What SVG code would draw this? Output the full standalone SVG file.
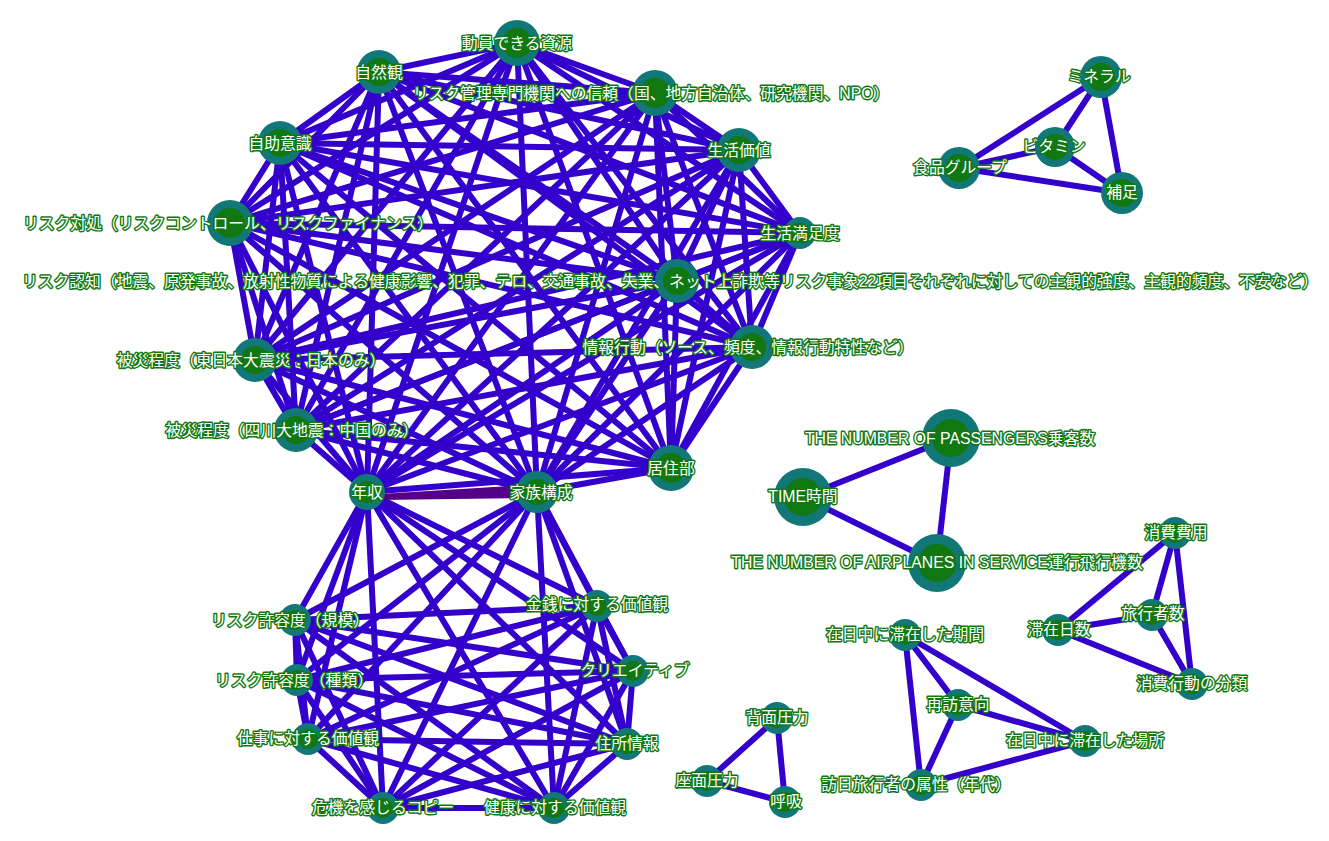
<svg xmlns="http://www.w3.org/2000/svg" width="1329" height="841" viewBox="0 0 1329 841">
<style>
.e{stroke:#3300cc;stroke-width:6;fill:none;stroke-linecap:butt}
.w{fill:#550088}
.o{fill:#117777}
.i{fill:#117711}
text{font-family:"Liberation Sans","Noto Sans CJK JP",sans-serif;font-size:15.8px;fill:#ffffff;stroke:#117711;stroke-width:2.8px;stroke-linejoin:round;paint-order:stroke;text-anchor:middle}
</style>
<rect width="1329" height="841" fill="#ffffff"/>
<g id="connectors">
<path class="e" d="M517 43L379 72"/><path class="e" d="M517 43L655 93"/><path class="e" d="M517 43L280 143"/><path class="e" d="M517 43L739 150"/><path class="e" d="M517 43L230 223"/><path class="e" d="M517 43L800 233"/><path class="e" d="M517 43L677 281"/><path class="e" d="M517 43L752 347"/><path class="e" d="M517 43L255 360"/><path class="e" d="M517 43L296 430"/><path class="e" d="M517 43L367 492"/><path class="e" d="M517 43L537 492"/><path class="e" d="M517 43L671 468"/>
<path class="e" d="M379 72L655 93"/><path class="e" d="M379 72L280 143"/><path class="e" d="M379 72L739 150"/><path class="e" d="M379 72L230 223"/><path class="e" d="M379 72L800 233"/><path class="e" d="M379 72L677 281"/><path class="e" d="M379 72L752 347"/><path class="e" d="M379 72L255 360"/><path class="e" d="M379 72L296 430"/><path class="e" d="M379 72L367 492"/><path class="e" d="M379 72L537 492"/><path class="e" d="M379 72L671 468"/>
<path class="e" d="M655 93L280 143"/><path class="e" d="M655 93L739 150"/><path class="e" d="M655 93L230 223"/><path class="e" d="M655 93L800 233"/><path class="e" d="M655 93L677 281"/><path class="e" d="M655 93L752 347"/><path class="e" d="M655 93L255 360"/><path class="e" d="M655 93L296 430"/><path class="e" d="M655 93L367 492"/><path class="e" d="M655 93L537 492"/><path class="e" d="M655 93L671 468"/>
<path class="e" d="M280 143L739 150"/><path class="e" d="M280 143L230 223"/><path class="e" d="M280 143L800 233"/><path class="e" d="M280 143L677 281"/><path class="e" d="M280 143L752 347"/><path class="e" d="M280 143L255 360"/><path class="e" d="M280 143L296 430"/><path class="e" d="M280 143L367 492"/><path class="e" d="M280 143L537 492"/><path class="e" d="M280 143L671 468"/>
<path class="e" d="M739 150L230 223"/><path class="e" d="M739 150L800 233"/><path class="e" d="M739 150L677 281"/><path class="e" d="M739 150L752 347"/><path class="e" d="M739 150L255 360"/><path class="e" d="M739 150L296 430"/><path class="e" d="M739 150L367 492"/><path class="e" d="M739 150L537 492"/><path class="e" d="M739 150L671 468"/>
<path class="e" d="M230 223L800 233"/><path class="e" d="M230 223L677 281"/><path class="e" d="M230 223L752 347"/><path class="e" d="M230 223L255 360"/><path class="e" d="M230 223L296 430"/><path class="e" d="M230 223L367 492"/><path class="e" d="M230 223L537 492"/><path class="e" d="M230 223L671 468"/>
<path class="e" d="M800 233L677 281"/><path class="e" d="M800 233L752 347"/><path class="e" d="M800 233L255 360"/><path class="e" d="M800 233L296 430"/><path class="e" d="M800 233L367 492"/><path class="e" d="M800 233L537 492"/><path class="e" d="M800 233L671 468"/>
<path class="e" d="M677 281L752 347"/><path class="e" d="M677 281L255 360"/><path class="e" d="M677 281L296 430"/><path class="e" d="M677 281L367 492"/><path class="e" d="M677 281L537 492"/><path class="e" d="M677 281L671 468"/>
<path class="e" d="M752 347L255 360"/><path class="e" d="M752 347L296 430"/><path class="e" d="M752 347L367 492"/><path class="e" d="M752 347L537 492"/><path class="e" d="M752 347L671 468"/>
<path class="e" d="M255 360L296 430"/><path class="e" d="M255 360L367 492"/><path class="e" d="M255 360L537 492"/><path class="e" d="M255 360L671 468"/>
<path class="e" d="M296 430L367 492"/><path class="e" d="M296 430L537 492"/><path class="e" d="M296 430L671 468"/>
<path class="e" d="M367 492L671 468"/><path class="e" d="M537 492L671 468"/>
<path class="e" d="M367 492L597 606"/><path class="e" d="M367 492L295 620"/><path class="e" d="M367 492L297 680"/><path class="e" d="M367 492L633 671"/><path class="e" d="M367 492L308 739"/><path class="e" d="M367 492L627 744"/><path class="e" d="M367 492L383 808"/><path class="e" d="M367 492L554 808"/>
<path class="e" d="M537 492L597 606"/><path class="e" d="M537 492L295 620"/><path class="e" d="M537 492L297 680"/><path class="e" d="M537 492L633 671"/><path class="e" d="M537 492L308 739"/><path class="e" d="M537 492L627 744"/><path class="e" d="M537 492L383 808"/><path class="e" d="M537 492L554 808"/>
<path class="e" d="M597 606L295 620"/><path class="e" d="M597 606L297 680"/><path class="e" d="M597 606L633 671"/><path class="e" d="M597 606L308 739"/><path class="e" d="M597 606L627 744"/><path class="e" d="M597 606L383 808"/><path class="e" d="M597 606L554 808"/>
<path class="e" d="M295 620L297 680"/><path class="e" d="M295 620L633 671"/><path class="e" d="M295 620L308 739"/><path class="e" d="M295 620L627 744"/><path class="e" d="M295 620L383 808"/><path class="e" d="M295 620L554 808"/>
<path class="e" d="M297 680L633 671"/><path class="e" d="M297 680L308 739"/><path class="e" d="M297 680L627 744"/><path class="e" d="M297 680L383 808"/><path class="e" d="M297 680L554 808"/>
<path class="e" d="M633 671L308 739"/><path class="e" d="M633 671L627 744"/><path class="e" d="M633 671L383 808"/><path class="e" d="M633 671L554 808"/>
<path class="e" d="M308 739L627 744"/><path class="e" d="M308 739L383 808"/><path class="e" d="M308 739L554 808"/>
<path class="e" d="M627 744L383 808"/><path class="e" d="M627 744L554 808"/>
<path class="e" d="M383 808L554 808"/>
<polygon class="w" points="380,494 380,500 525,498 525,485"/>
<path class="e" d="M1101 77L1055 147"/><path class="e" d="M1101 77L959 168"/><path class="e" d="M1101 77L1122 193"/><path class="e" d="M1055 147L959 168"/><path class="e" d="M1055 147L1122 193"/><path class="e" d="M959 168L1122 193"/>
<path class="e" d="M951 438L803 497"/><path class="e" d="M951 438L937 563"/><path class="e" d="M803 497L937 563"/>
<path class="e" d="M1175 533L1152 615"/><path class="e" d="M1175 533L1058 630"/><path class="e" d="M1175 533L1192 684"/><path class="e" d="M1152 615L1058 630"/><path class="e" d="M1152 615L1192 684"/><path class="e" d="M1058 630L1192 684"/>
<path class="e" d="M905 635L958 705"/><path class="e" d="M905 635L1085 741"/><path class="e" d="M905 635L921 785"/><path class="e" d="M958 705L1085 741"/><path class="e" d="M958 705L921 785"/><path class="e" d="M1085 741L921 785"/>
<path class="e" d="M777 718L707 781"/><path class="e" d="M777 718L785 802"/><path class="e" d="M707 781L785 802"/>
</g>
<g id="n1"><circle class="o" cx="517" cy="43" r="23"/><circle class="i" cx="517" cy="43" r="15"/><text x="517" y="48.5">動員できる資源</text></g>
<g id="n2"><circle class="o" cx="379" cy="72" r="22"/><circle class="i" cx="379" cy="72" r="14"/><text x="379" y="77.5">自然観</text></g>
<g id="n3"><circle class="o" cx="655" cy="93" r="23"/><circle class="i" cx="655" cy="93" r="15"/><text x="651" y="98.5">リスク管理専門機関への信頼（国、地方自治体、研究機関、NPO）</text></g>
<g id="n4"><circle class="o" cx="280" cy="143" r="22"/><circle class="i" cx="280" cy="143" r="14"/><text x="280" y="148.5">自助意識</text></g>
<g id="n5"><circle class="o" cx="739" cy="150" r="22"/><circle class="i" cx="739" cy="150" r="14"/><text x="739" y="155.5">生活価値</text></g>
<g id="n6"><circle class="o" cx="230" cy="223" r="23"/><circle class="i" cx="230" cy="223" r="15"/><text x="228" y="228.5">リスク対処（リスクコントロール、リスクファイナンス）</text></g>
<g id="n7"><circle class="o" cx="800" cy="233" r="16"/><circle class="i" cx="800" cy="233" r="10"/><text x="800" y="238.5">生活満足度</text></g>
<g id="n8"><circle class="o" cx="677" cy="281" r="22"/><circle class="i" cx="677" cy="281" r="14"/><text x="670" y="286.5">リスク認知（地震、原発事故、放射性物質による健康影響、犯罪、テロ、交通事故、失業、ネット上詐欺等リスク事象22項目それぞれに対しての主観的強度、主観的頻度、不安など）</text></g>
<g id="n9"><circle class="o" cx="752" cy="347" r="22"/><circle class="i" cx="752" cy="347" r="14"/><text x="748" y="352.5">情報行動（ソース、頻度、情報行動特性など）</text></g>
<g id="n10"><circle class="o" cx="255" cy="360" r="22"/><circle class="i" cx="255" cy="360" r="14"/><text x="251" y="365.5">被災程度（東日本大震災：日本のみ）</text></g>
<g id="n11"><circle class="o" cx="296" cy="430" r="22"/><circle class="i" cx="296" cy="430" r="14"/><text x="292" y="435.5">被災程度（四川大地震：中国のみ）</text></g>
<g id="n12"><circle class="o" cx="367" cy="492" r="18"/><circle class="i" cx="367" cy="492" r="11"/><text x="367" y="497.5">年収</text></g>
<g id="n13"><circle class="o" cx="537" cy="492" r="21"/><circle class="i" cx="537" cy="492" r="13"/><text x="541" y="497.5">家族構成</text></g>
<g id="n14"><circle class="o" cx="671" cy="468" r="23"/><circle class="i" cx="671" cy="468" r="15"/><text x="671" y="473.5">居住部</text></g>
<g id="n15"><circle class="o" cx="597" cy="606" r="16"/><circle class="i" cx="597" cy="606" r="10"/><text x="597" y="609.5">金銭に対する価値観</text></g>
<g id="n16"><circle class="o" cx="295" cy="620" r="16"/><circle class="i" cx="295" cy="620" r="10"/><text x="290" y="625.5">リスク許容度（規模）</text></g>
<g id="n17"><circle class="o" cx="297" cy="680" r="16"/><circle class="i" cx="297" cy="680" r="10"/><text x="294" y="685.5">リスク許容度（種類）</text></g>
<g id="n18"><circle class="o" cx="633" cy="671" r="16"/><circle class="i" cx="633" cy="671" r="10"/><text x="635" y="676">クリエイティブ</text></g>
<g id="n19"><circle class="o" cx="308" cy="739" r="16"/><circle class="i" cx="308" cy="739" r="10"/><text x="308" y="744">仕事に対する価値観</text></g>
<g id="n20"><circle class="o" cx="627" cy="744" r="16"/><circle class="i" cx="627" cy="744" r="10"/><text x="627" y="749">住所情報</text></g>
<g id="n21"><circle class="o" cx="383" cy="808" r="16"/><circle class="i" cx="383" cy="808" r="10"/><text x="383" y="813">危機を感じるコピー</text></g>
<g id="n22"><circle class="o" cx="554" cy="808" r="16"/><circle class="i" cx="554" cy="808" r="10"/><text x="555" y="813">健康に対する価値観</text></g>
<g id="n23"><circle class="o" cx="1101" cy="77" r="21"/><circle class="i" cx="1101" cy="77" r="14"/><text x="1099" y="82">ミネラル</text></g>
<g id="n24"><circle class="o" cx="1055" cy="147" r="20"/><circle class="i" cx="1055" cy="147" r="13"/><text x="1054" y="152">ビタミン</text></g>
<g id="n25"><circle class="o" cx="959" cy="168" r="21"/><circle class="i" cx="959" cy="168" r="14"/><text x="960" y="173">食品グループ</text></g>
<g id="n26"><circle class="o" cx="1122" cy="193" r="21"/><circle class="i" cx="1122" cy="193" r="14"/><text x="1122" y="198">補足</text></g>
<g id="n27"><circle class="o" cx="951" cy="438" r="29"/><circle class="i" cx="951" cy="438" r="19"/><text x="950" y="443.5">THE NUMBER OF PASSENGERS乗客数</text></g>
<g id="n28"><circle class="o" cx="803" cy="497" r="29"/><circle class="i" cx="803" cy="497" r="19"/><text x="803" y="502">TIME時間</text></g>
<g id="n29"><circle class="o" cx="937" cy="563" r="29"/><circle class="i" cx="937" cy="563" r="19"/><text x="937" y="568">THE NUMBER OF AIRPLANES IN SERVICE運行飛行機数</text></g>
<g id="n30"><circle class="o" cx="1175" cy="533" r="16"/><circle class="i" cx="1175" cy="533" r="10"/><text x="1176" y="538">消費費用</text></g>
<g id="n31"><circle class="o" cx="1152" cy="615" r="16"/><circle class="i" cx="1152" cy="615" r="10"/><text x="1153" y="619">旅行者数</text></g>
<g id="n32"><circle class="o" cx="1058" cy="630" r="16"/><circle class="i" cx="1058" cy="630" r="10"/><text x="1059" y="635">滞在日数</text></g>
<g id="n33"><circle class="o" cx="1192" cy="684" r="16"/><circle class="i" cx="1192" cy="684" r="10"/><text x="1192" y="688.5">消費行動の分類</text></g>
<g id="n34"><circle class="o" cx="905" cy="635" r="16"/><circle class="i" cx="905" cy="635" r="10"/><text x="905" y="640">在日中に滞在した期間</text></g>
<g id="n35"><circle class="o" cx="958" cy="705" r="16"/><circle class="i" cx="958" cy="705" r="10"/><text x="958" y="710">再訪意向</text></g>
<g id="n36"><circle class="o" cx="1085" cy="741" r="16"/><circle class="i" cx="1085" cy="741" r="10"/><text x="1085" y="746">在日中に滞在した場所</text></g>
<g id="n37"><circle class="o" cx="921" cy="785" r="16"/><circle class="i" cx="921" cy="785" r="10"/><text x="916" y="790">訪日旅行者の属性（年代）</text></g>
<g id="n38"><circle class="o" cx="777" cy="718" r="16"/><circle class="i" cx="777" cy="718" r="10"/><text x="777" y="723">背面圧力</text></g>
<g id="n39"><circle class="o" cx="707" cy="781" r="16"/><circle class="i" cx="707" cy="781" r="10"/><text x="707" y="786">座面圧力</text></g>
<g id="n40"><circle class="o" cx="785" cy="802" r="16"/><circle class="i" cx="785" cy="802" r="10"/><text x="786" y="807">呼吸</text></g>
</svg>
